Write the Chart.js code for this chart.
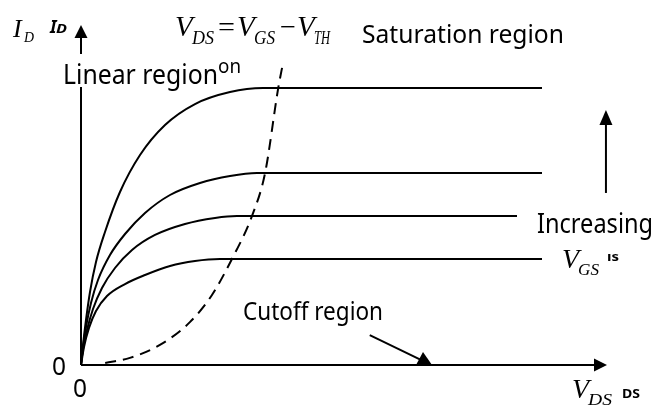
<!DOCTYPE html>
<html>
<head>
<meta charset="utf-8">
<script src="https://cdn.jsdelivr.net/npm/chart.js@4"></script>
<style>
html,body{margin:0;padding:0;background:#fff;}
canvas{display:block;}
</style>
</head>
<body>
<canvas id="mosChart" width="655" height="408"></canvas>
<script>
const ctx = document.getElementById('mosChart');

// drain current vs V_DS, one curve per gate voltage (arbitrary units)
const curveVgs4 = [[0,0],[0.038,0.588],[0.095,1.324],[0.171,2.147],[0.285,3.029],[0.456,3.912],[0.741,5.088],[1.122,6.176],[1.597,7.059],[2.167,7.676],[2.833,8.029],[3.46,8.147],[8.764,8.147]];
const curveVgs3 = [[0,0],[0.038,0.529],[0.095,1.118],[0.19,1.824],[0.323,2.5],[0.551,3.235],[0.837,3.853],[1.217,4.471],[1.692,5.0],[2.262,5.353],[2.833,5.559],[3.346,5.647],[8.764,5.647]];
const curveVgs2 = [[0,0],[0.038,0.471],[0.114,1.029],[0.228,1.647],[0.399,2.265],[0.646,2.853],[0.97,3.382],[1.407,3.824],[1.977,4.147],[2.548,4.324],[2.966,4.382],[8.289,4.382]];
const curveVgs1 = [[0,0],[0.057,0.529],[0.152,1.088],[0.285,1.588],[0.494,2.029],[0.837,2.382],[1.217,2.647],[1.692,2.912],[2.167,3.059],[2.643,3.118],[8.764,3.118]];

// edge of saturation, V_DS = V_GS - V_TH
const boundary = [[0.46,0.06],[0.93,0.21],[1.5,0.59],[2.07,1.26],[2.49,2.06],[2.87,3.12],[3.25,4.38],[3.5,5.65],[3.75,8.15],[3.84,8.88]];

// pointer arrows
const cutoffArrow = [[5.49,0.88],[6.54,0.09]];
const vgsArrow = [[9.98,5.06],[9.98,7.5]];

function pts(a) { return a.map(p => ({ x: p[0], y: p[1] })); }

function curve(a) {
    return {
        data: pts(a),
        borderColor: '#000',
        borderWidth: 2,
        pointRadius: 0,
        fill: false,
        cubicInterpolationMode: 'monotone'
    };
}

function arrowHead(c, x0, y0, x1, y1, len, half) {
    const ang = Math.atan2(y1 - y0, x1 - x0);
    c.beginPath();
    c.moveTo(x1, y1);
    c.lineTo(x1 - len * Math.cos(ang) + half * Math.sin(ang), y1 - len * Math.sin(ang) - half * Math.cos(ang));
    c.lineTo(x1 - len * Math.cos(ang) - half * Math.sin(ang), y1 - len * Math.sin(ang) + half * Math.cos(ang));
    c.closePath();
    c.fill();
}

// text squeezed or stretched to a given width
function txt(c, s, x, y, font, w) {
    c.save();
    c.font = font;
    const m = c.measureText(s).width;
    c.translate(x, y);
    if (w) c.scale(w / m, 1);
    c.fillText(s, 0, 0);
    c.restore();
}

const overlay = {
    id: 'overlay',
    beforeDraw(chart) {
        const c = chart.ctx;
        c.save();
        c.fillStyle = '#fff';
        c.fillRect(0, 0, chart.width, chart.height);
        c.restore();
    },
    afterDraw(chart) {
        const c = chart.ctx, xs = chart.scales.x, ys = chart.scales.y, a = chart.chartArea;
        const ox = xs.getPixelForValue(0), oy = ys.getPixelForValue(0);
        c.save();
        c.strokeStyle = '#000';
        c.fillStyle = '#000';
        c.lineWidth = 2;

        // axes
        c.beginPath();
        c.moveTo(ox, oy); c.lineTo(a.right - 8, oy);
        c.moveTo(ox, oy); c.lineTo(ox, a.top + 8);
        c.stroke();
        arrowHead(c, ox, oy, a.right, oy, 13, 6.5);
        arrowHead(c, ox, oy, ox, a.top, 13, 6.5);

        // cutoff pointer
        const cx0 = xs.getPixelForValue(cutoffArrow[0][0]), cy0 = ys.getPixelForValue(cutoffArrow[0][1]);
        const cx1 = xs.getPixelForValue(cutoffArrow[1][0]), cy1 = ys.getPixelForValue(cutoffArrow[1][1]);
        c.beginPath(); c.moveTo(cx0, cy0); c.lineTo(cx1, cy1); c.stroke();
        c.beginPath();
        c.moveTo(cx1 - 2, cy1 - 10); c.lineTo(cx1 + 7, oy); c.lineTo(cx1 - 9, oy);
        c.closePath(); c.fill();

        // increasing V_GS pointer
        const vx = xs.getPixelForValue(vgsArrow[0][0]);
        const vy0 = ys.getPixelForValue(vgsArrow[0][1]), vy1 = ys.getPixelForValue(vgsArrow[1][1]);
        c.beginPath(); c.moveTo(vx, vy0); c.lineTo(vx, vy1 + 10); c.stroke();
        arrowHead(c, vx, vy0, vx, vy1, 15, 6.5);

        // labels
        const sans = '"Noto Sans", sans-serif';
        const serif = '"Liberation Serif", serif';
        c.textBaseline = 'alphabetic';
        c.fillStyle = '#fff';
        c.fillRect(60, 54, 160, 33);
        c.fillStyle = '#000';
        txt(c, 'Saturation region', 362, 43, '25px ' + sans, 202);
        txt(c, 'Linear region', 63, 84, '27px ' + sans, 155);
        txt(c, 'on', 218, 73, '20px ' + sans, 23);
        txt(c, 'Increasing', 537, 233, '27px ' + sans, 116);
        txt(c, 'Cutoff region', 243, 320, '26px ' + sans, 140);
        txt(c, '0', 52, 375, '25px ' + sans, 14);
        txt(c, '0', 73, 397, '25px ' + sans, 14);

        // serif math labels
        txt(c, 'I', 13, 37, 'italic 26px ' + serif);
        txt(c, 'D', 24, 42, 'italic 15px ' + serif, 10);
        txt(c, 'I', 50, 33, 'italic bold 17px ' + sans);
        txt(c, 'D', 56, 33, 'italic bold 13px ' + sans, 11);

        txt(c, 'V', 175, 36, 'italic 29px ' + serif);
        txt(c, 'DS', 192, 44, 'italic 18px ' + serif, 22);
        txt(c, '=', 218, 36, '28px ' + serif, 17);
        txt(c, 'V', 237, 36, 'italic 29px ' + serif);
        txt(c, 'GS', 254, 44, 'italic 18px ' + serif, 21);
        txt(c, '\u2212', 280, 36, '28px ' + serif, 16);
        txt(c, 'V', 297, 36, 'italic 29px ' + serif);
        txt(c, 'TH', 314, 44, 'italic 18px ' + serif, 16);

        txt(c, 'V', 562, 268, 'italic 28px ' + serif);
        txt(c, 'GS', 578, 275, 'italic 17px ' + serif, 21);
        txt(c, '\u0131s', 607, 261, 'bold 13px ' + sans, 12);

        txt(c, 'V', 572, 398, 'italic 28px ' + serif);
        txt(c, 'DS', 588, 405, 'italic 17px ' + serif, 24);
        txt(c, 'DS', 622, 398, 'bold 13px ' + sans, 18);
        c.restore();
    }
};

new Chart(ctx, {
    type: 'line',
    data: {
        datasets: [
            curve(curveVgs4),
            curve(curveVgs3),
            curve(curveVgs2),
            curve(curveVgs1),
            {
                data: pts(boundary),
                borderColor: '#000',
                borderWidth: 2,
                borderDash: [11, 7],
                pointRadius: 0,
                fill: false,
                cubicInterpolationMode: 'monotone'
            }
        ]
    },
    options: {
        responsive: false,
        devicePixelRatio: 1,
        animation: false,
        layout: { padding: { left: 81, right: 48, top: 25, bottom: 43 } },
        scales: {
            x: { type: 'linear', min: 0, max: 10, display: false },
            y: { min: 0, max: 10, display: false }
        },
        plugins: {
            legend: { display: false },
            tooltip: { enabled: false }
        }
    },
    plugins: [overlay]
});
</script>
</body>
</html>
